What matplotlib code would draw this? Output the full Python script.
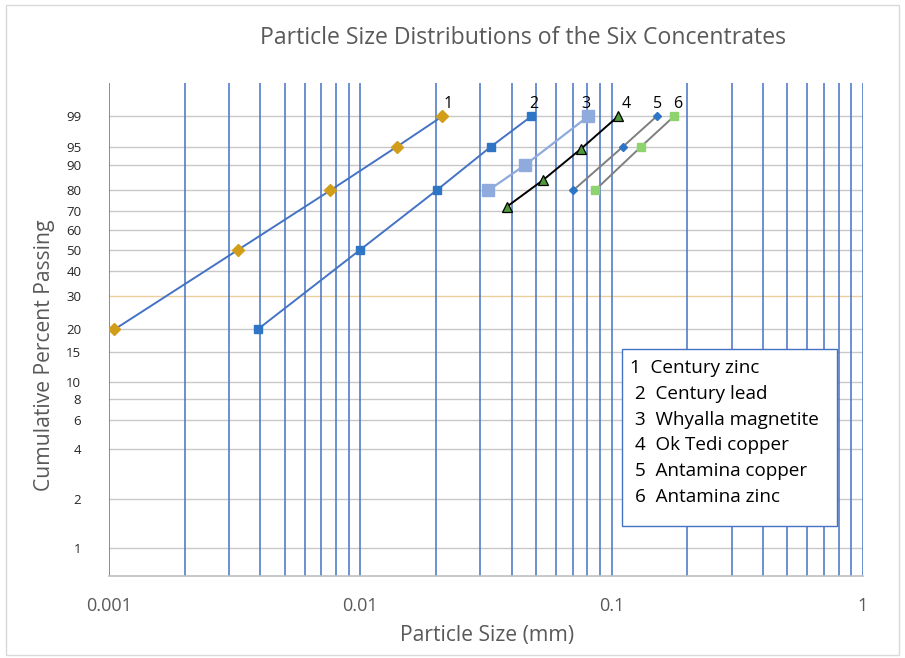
import numpy as np
import matplotlib
matplotlib.use('Agg')
import matplotlib.pyplot as plt
from matplotlib.patches import Rectangle
from matplotlib.ticker import NullLocator

plt.rcParams['font.family'] = ['Open Sans', 'DejaVu Sans']

# data (size in mm, cumulative % passing)
names = ['Century zinc', 'Century lead', 'Whyalla magnetite',
         'Ok Tedi copper', 'Antamina copper', 'Antamina zinc']

size_1 = [0.00105, 0.00327, 0.0076, 0.0140, 0.0212]
pass_1 = [20, 50, 80, 95, 99]

size_2 = [0.0039, 0.0100, 0.0201, 0.0331, 0.0479]
pass_2 = [20, 50, 80, 95, 99]

size_3 = [0.0323, 0.0452, 0.0807]
pass_3 = [80, 90, 99]

size_4 = [0.0382, 0.0534, 0.0755, 0.106]
pass_4 = [72, 84.5, 94.5, 99]

size_5 = [0.0703, 0.111, 0.151]
pass_5 = [80, 95, 99]

size_6 = [0.0858, 0.131, 0.177]
pass_6 = [80, 95, 99]

y_ticks = [1, 2, 4, 6, 8, 10, 15, 20, 30, 40, 50, 60, 70, 80, 90, 95, 99]
x_ticks = [0.001, 0.01, 0.1, 1]
x_ticklabels = ['0.001', '0.01', '0.1', '1']


# Rosin-Rammler (Weibull) probability scale
def rr_fwd(p):
    p = np.clip(np.asarray(p, dtype=float), 1e-9, 100 - 1e-9)
    return np.log(-np.log(1 - p / 100.0))

def rr_inv(y):
    return 100.0 * (1 - np.exp(-np.exp(np.asarray(y, dtype=float))))


fig = plt.figure(figsize=(9.05, 6.58), dpi=100)
ax = fig.add_axes([109/905, 1-576/658, 754/905, 493/658])

ax.set_xscale('log')
ax.set_yscale('function', functions=(rr_fwd, rr_inv))
ax.set_xlim(0.001, 1)
ax.set_ylim(rr_inv(-5), rr_inv(2))

# grid
for v in y_ticks:
    c = '#EBCF9E' if v == 30 else '#C8C8C8'
    ax.axhline(v, color=c, lw=1.0, zorder=1)
for dec in [0.001, 0.01, 0.1]:
    for k in range(1, 10):
        ax.axvline(dec * k, color='#4472C4', lw=1.1, zorder=1)
ax.axvline(1, color='#4472C4', lw=1.1, zorder=1)

# series
ax.plot(size_1, pass_1, color='#4472C4', lw=1.4, marker='D', ms=6,
        mfc='#D29E1A', mec='#D29E1A', zorder=3)
ax.plot(size_2, pass_2, color='#4472C4', lw=1.4, marker='s', ms=5.5,
        mfc='#2E75C6', mec='#2E75C6', zorder=3)
ax.plot(size_3, pass_3, color='#8FAADC', lw=1.6, marker='s', ms=8.5,
        mfc='#8FAADC', mec='#8FAADC', zorder=3)
ax.plot(size_4, pass_4, color='black', lw=1.4, marker='^', ms=6.5,
        mfc='#4E9A3A', mec='black', mew=0.9, zorder=3)
ax.plot(size_5, pass_5, color='#7F7F7F', lw=1.4, marker='D', ms=4,
        mfc='#2E75C6', mec='#2E75C6', zorder=3)
ax.plot(size_6, pass_6, color='#7F7F7F', lw=1.4, marker='s', ms=6,
        mfc='#8ED36E', mec='#8ED36E', zorder=3)

# numbers above the top points
tops = [size_1[-1], size_2[-1], size_3[-1], size_4[-1], size_5[-1], size_6[-1]]
label_offsets = [(4, 9), (1.5, 9), (-2, 9), (6, 9), (0.5, 9), (2.5, 9)]
for i, (xs, off) in enumerate(zip(tops, label_offsets)):
    ax.annotate(str(i + 1), (xs, 99), xytext=off, textcoords='offset points',
                ha='center', va='center', fontsize=11.5, color='black', zorder=5)

# axes styling
for s in ['top', 'left', 'right']:
    ax.spines[s].set_visible(False)
ax.spines['bottom'].set_color('#BFBFBF')
ax.spines['bottom'].set_linewidth(1.2)
ax.spines['bottom'].set_zorder(2)

ax.set_yticks(y_ticks)
ax.set_yticklabels([str(v) for v in y_ticks])
ax.yaxis.set_minor_locator(NullLocator())
ax.set_xticks(x_ticks)
ax.set_xticklabels(x_ticklabels)
ax.xaxis.set_minor_locator(NullLocator())
ax.tick_params(axis='y', length=0, pad=20, labelsize=9.5, labelcolor='#262626')
ax.tick_params(axis='x', length=0, pad=15, labelsize=13, labelcolor='#595959')

ax.set_xlabel('Particle Size (mm)', fontsize=15.2, color='#595959')
ax.xaxis.set_label_coords(0.501, -0.1197)
ax.xaxis.label.set_va('center')
ax.set_ylabel('Cumulative Percent Passing', fontsize=15.2, color='#595959')
ax.yaxis.set_label_coords(-0.0849, 0.448)
ax.yaxis.label.set_va('center')

fig.text(523/905, 1-38/658, 'Particle Size Distributions of the Six Concentrates',
         ha='center', va='center', fontsize=16.6, color='#595959')

# legend box with the numbered names
box = Rectangle((622/905, 1-526/658), 215/905, 177/658, transform=fig.transFigure,
                facecolor='white', edgecolor='#4472C4', lw=1.0, zorder=10)
fig.patches.append(box)
for i, nm in enumerate(names):
    x0 = 630 if i == 0 else 635
    y0 = 368.3 + i * 25.7
    fig.text(x0/905, 1-y0/658, '%d  %s' % (i + 1, nm), ha='left', va='center',
             fontsize=13.6, color='black', zorder=11)

# outer chart frame
frame = Rectangle((6/905, 1-655/658), 893/905, 650/658, transform=fig.transFigure,
                  facecolor='none', edgecolor='#D9D9D9', lw=1.0, zorder=0)
fig.patches.append(frame)

fig.savefig('out.png', dpi=100)
